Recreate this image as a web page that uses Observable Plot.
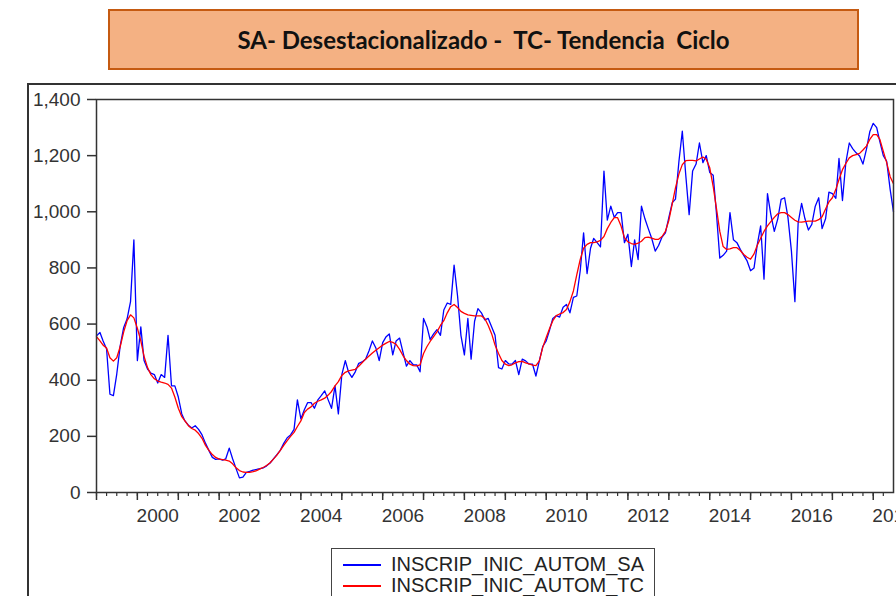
<!DOCTYPE html>
<html><head><meta charset="utf-8">
<script src="https://cdn.jsdelivr.net/npm/d3@7"></script>
<script src="https://cdn.jsdelivr.net/npm/@observablehq/plot@0.6"></script>
<style>
html,body{margin:0;padding:0;background:#fff;overflow:hidden;width:896px;height:596px;}
#wrap{position:relative;width:896px;height:596px;overflow:hidden;}
#title{position:absolute;left:108px;top:9px;width:751px;height:61px;box-sizing:border-box;background:#F4B183;border:2px solid #C55A11;display:flex;align-items:center;justify-content:center;font-family:Lato,'Open Sans',sans-serif;font-weight:bold;font-size:24px;white-space:pre;color:#111;z-index:2;}
#frame{position:absolute;left:27px;top:83px;width:900px;height:600px;border-left:2px solid #333;border-top:2px solid #333;z-index:1;}
#chart{position:absolute;left:0;top:0;z-index:0;}
#legend{position:absolute;left:331px;top:548px;width:324px;height:100px;box-sizing:border-box;border:1.5px solid #444;background:#fff;z-index:3;font-family:'Liberation Sans',Arial,sans-serif;font-size:20px;color:#222;}
.row{position:absolute;left:0;height:21px;line-height:21px;white-space:nowrap;}
.sw{position:absolute;left:11px;top:10px;width:38px;height:1.5px;}
.lb{position:absolute;left:59px;top:0;}
</style>
</head><body><div id="wrap">
<div id="chart"></div>
<div id="frame"></div>
<div id="title"></div>
<div id="legend"></div>
</div>
<script>
const titleText = "SA- Desestacionalizado -  TC- Tendencia  Ciclo";
const seriesNames = ["INSCRIP_INIC_AUTOM_SA", "INSCRIP_INIC_AUTOM_TC"];
const seriesColors = ["#0000FF", "#FF0000"];
const startYear = 1999;
const yTicks = [0, 200, 400, 600, 800, 1000, 1200, 1400];
const xLabelYears = [2000, 2002, 2004, 2006, 2008, 2010, 2012, 2014, 2016, 2018];

// monthly values from 1999M01
const saValues = [
  558, 570, 540, 511, 350, 345, 422, 523, 588, 618,
  680, 900, 470, 590, 470, 440, 425, 420, 390, 420,
  410, 560, 380, 380, 340, 280, 255, 240, 230, 238,
  225, 205, 175, 150, 125, 118, 120, 115, 120, 158,
  120, 85, 52, 55, 72, 75, 80, 82, 85, 88,
  95, 105, 120, 135, 150, 175, 195, 205, 225, 330,
  262, 295, 320, 320, 300, 330, 345, 362, 330, 300,
  380, 280, 420, 470, 430, 410, 430, 460, 465, 475,
  505, 540, 515, 470, 534, 555, 565, 490, 540, 550,
  500, 450, 470, 455, 455, 430, 620, 590, 545, 565,
  580, 560, 650, 675, 670, 810, 700, 560, 490, 620,
  475, 610, 655, 640, 615, 620, 590, 560, 445, 440,
  470, 458, 457, 470, 420, 475, 469, 457, 457, 415,
  470, 520, 540, 580, 620, 630, 625, 660, 670, 640,
  695, 700, 790, 925, 780, 870, 905, 890, 875, 1145,
  970, 1020, 980, 997, 997, 890, 920, 805, 900, 830,
  1020, 975, 940, 905, 860, 880, 910, 925, 980, 1033,
  1045, 1180, 1287, 1130, 990, 1145, 1170, 1245, 1175, 1200,
  1140, 1130, 1000, 835, 845, 860, 997, 900, 890, 866,
  845, 825, 790, 800, 880, 950, 760, 1065, 990, 930,
  975, 1044, 1050, 980, 860, 680, 960, 1030, 975, 935,
  955, 1020, 1050, 940, 975, 1070, 1065, 1048, 1190, 1040,
  1175, 1245, 1225, 1210, 1199, 1170, 1222, 1285, 1315, 1300,
  1250, 1200, 1180, 1080, 1000
];
const tcValues = [
  555, 540, 525, 515, 480, 468, 480, 520, 572, 612,
  633, 622, 585, 540, 485, 445, 420, 405, 397, 393,
  390, 385, 372, 340, 300, 270, 255, 238, 228, 222,
  210, 193, 168, 150, 135, 125, 119, 117, 115, 112,
  102, 88, 78, 73, 72, 72, 74, 78, 84, 90,
  96, 106, 119, 133, 150, 168, 185, 200, 214, 235,
  255, 285, 297, 305, 318, 325, 330, 336, 347, 360,
  380, 395, 417, 428, 433, 436, 439, 450, 462, 475,
  486, 497, 507, 516, 525, 532, 538, 535, 528, 510,
  488, 470, 457, 452, 451, 455, 495, 520, 538, 555,
  572, 595, 612, 640, 662, 670, 659, 645, 638, 633,
  631, 629, 629, 629, 620, 595, 565, 525, 495, 470,
  457, 452, 455, 462, 466, 467, 462, 458, 454, 452,
  469, 517, 552, 585, 612, 630, 636, 641, 652, 680,
  718, 775, 830, 870, 884, 890, 890, 893, 898, 912,
  940, 962, 979, 979, 949, 908, 893, 887, 884, 888,
  895, 908, 910, 906, 902, 902, 912, 930, 970, 1030,
  1085, 1135, 1168, 1182, 1183, 1183, 1181, 1188, 1195, 1187,
  1157, 1090, 1015, 930, 876, 866, 868, 872, 872, 862,
  848, 838, 831, 850, 880, 906, 930, 950, 965, 980,
  993, 997, 997, 990, 980, 970, 964, 963, 965, 967,
  967, 967, 972, 982, 1010, 1035, 1050, 1080, 1115, 1150,
  1172, 1192, 1200, 1204, 1208, 1220, 1234, 1258, 1275, 1275,
  1258, 1215, 1175, 1125, 1100
];

const monthDate = i => new Date(Date.UTC(startYear, i, 1));
const rows = [];
saValues.forEach((v, i) => rows.push({date: monthDate(i), value: v, series: seriesNames[0]}));
tcValues.forEach((v, i) => rows.push({date: monthDate(i), value: v, series: seriesNames[1]}));

const n = saValues.length;
const x0 = monthDate(0), x1 = monthDate(n - 1);
const endYear = x1.getUTCFullYear();
const yearStarts = d3.range(startYear, endYear + 1).map(y => new Date(Date.UTC(y, 0, 1)));
const quarterStarts = d3.utcMonth.every(3).range(x0, x1);
const labelDates = xLabelYears.map(y => new Date(Date.UTC(y, 6, 1)));

const fontFam = "'Liberation Sans', Arial, sans-serif";
const chart = Plot.plot({
  width: 896, height: 596,
  marginLeft: 96, marginRight: 3, marginTop: 99, marginBottom: 104,
  style: {fontFamily: fontFam, background: "transparent", overflow: "visible"},
  x: {type: "utc", domain: [x0, x1]},
  y: {domain: [0, 1400]},
  color: {domain: seriesNames, range: seriesColors},
  marks: [
    Plot.axisY({ticks: yTicks, tickSize: 9, tickPadding: 7, tickFormat: d3.format(","), fontSize: 19, fill: "#333", stroke: "#333", strokeWidth: 1.5, label: null}),
    Plot.axisX({ticks: yearStarts, tickSize: 8, tickFormat: () => "", stroke: "#333", strokeWidth: 1.5, label: null}),
    Plot.axisX({ticks: quarterStarts, tickSize: 4, tickFormat: () => "", stroke: "#333", strokeWidth: 1.2, label: null}),
    Plot.axisX({ticks: labelDates, tickSize: 0, tickPadding: 16, tickFormat: d3.utcFormat("%Y"), fontSize: 19, fill: "#333", label: null}),
    Plot.line(rows, {x: "date", y: "value", z: "series", stroke: "series", strokeWidth: 1.3}),
    Plot.frame({stroke: "#333", strokeWidth: 1.5})
  ]
});
document.getElementById("chart").appendChild(chart);

document.getElementById("title").textContent = titleText;
const leg = document.getElementById("legend");
seriesNames.forEach((s, i) => {
  const r = document.createElement("div");
  r.className = "row";
  r.style.top = (5 + i * 21) + "px";
  r.style.width = "100%";
  const sw = document.createElement("div");
  sw.className = "sw"; sw.style.background = seriesColors[i];
  const lb = document.createElement("div");
  lb.className = "lb"; lb.textContent = s;
  r.appendChild(sw); r.appendChild(lb);
  leg.appendChild(r);
});
</script>
</body></html>
